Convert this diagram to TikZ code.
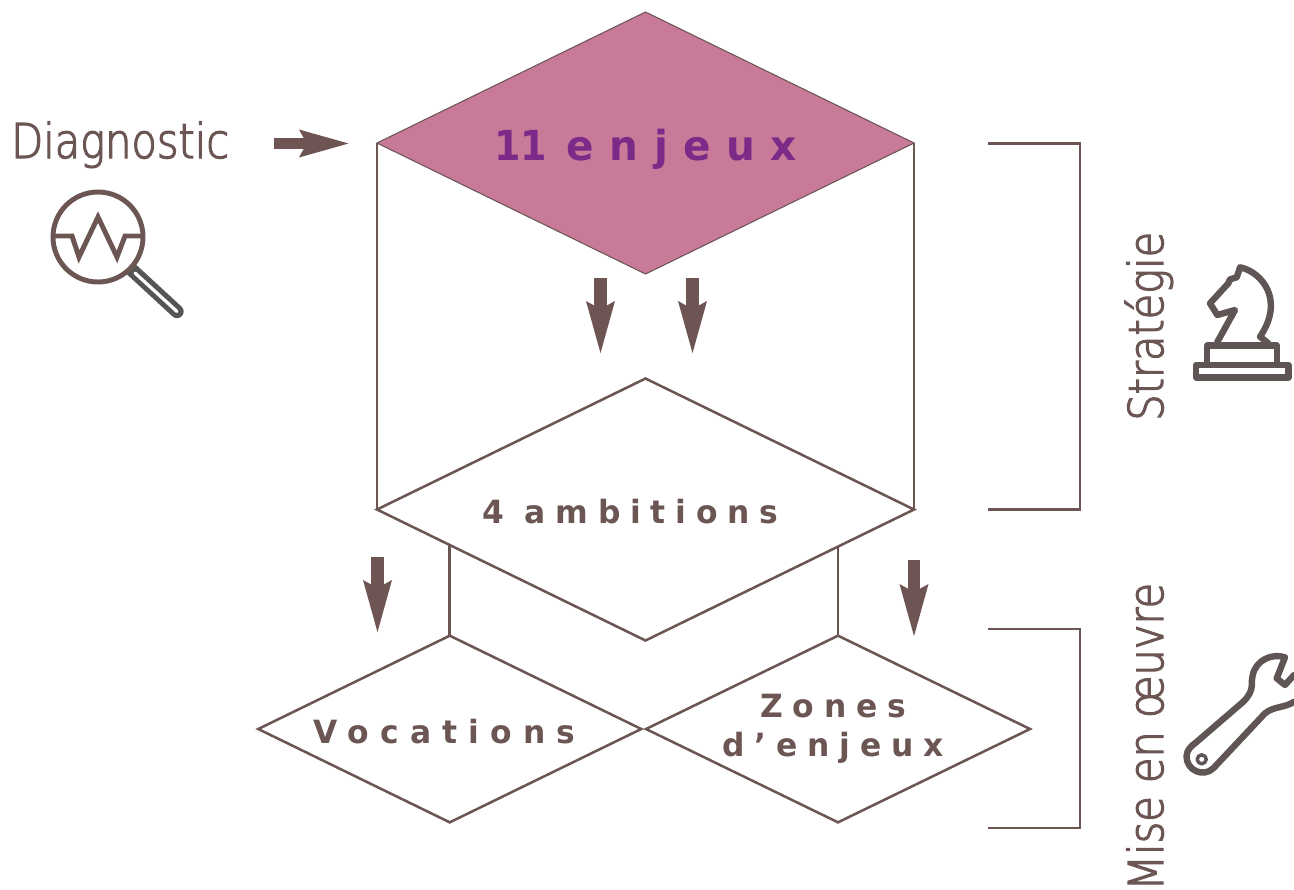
\documentclass[tikz,border=0pt]{standalone}
\usepackage{fontspec}
\usetikzlibrary{shapes.geometric,arrows.meta}
\setmainfont{DejaVu Sans}
\newfontfamily\lightf[FakeStretch=0.865,FakeBold=2.5]{DejaVu Sans ExtraLight}
\newfontfamily\spaced[LetterSpace=35,FakeStretch=0.98]{DejaVu Sans}
\newfontfamily\spacedb[LetterSpace=30.5,FakeStretch=0.98]{DejaVu Sans}
\newfontfamily\spacedt[LetterSpace=37.5,FakeStretch=0.98]{DejaVu Sans}
\newfontfamily\tightb[FakeStretch=0.92]{DejaVu Sans}
\definecolor{brownline}{HTML}{6B5654}
\definecolor{brownarrow}{HTML}{6E5452}
\definecolor{rosefill}{HTML}{C97A99}
\definecolor{purpletext}{HTML}{7B2A88}
\definecolor{iconbrown}{HTML}{5F5555}
\definecolor{icondark}{HTML}{555556}
\newcommand{\dtext}[3]{\makebox[0pt]{\hspace*{#1}\raisebox{#2}[0pt][0pt]{#3}}}
\newcommand{\boldlbl}{\spaced\bfseries\fontsize{24}{24}\selectfont\color{brownline}}
\newcommand{\boldlblb}{\spacedb\bfseries\fontsize{24}{24}\selectfont\color{brownline}}
\tikzset{
  x=0.75pt,y=-0.75pt,
  dia/.style={diamond,aspect=2,draw=brownline,line width=1.9pt,fill=white,inner sep=0pt,outer sep=0pt,line join=miter},
  wire/.style={draw=brownline,line width=1.9pt},
  blockarrow/.style={draw=brownarrow,line width=9.5pt,-{Stealth[length=39pt,width=19pt,inset=4pt]}},
  iconline/.style={draw=iconbrown,line width=4.8pt,line join=round,line cap=round},
  lensline/.style={draw=brownline,line width=3.7pt,line join=miter},
  sidetext/.style={font=\lightf\fontsize{36}{36}\selectfont,text=brownline,inner sep=0pt},
}
\begin{document}
\begin{tikzpicture}
\useasboundingbox (0,0) rectangle (1294,889);
\node[dia,minimum width=402.75pt,minimum height=196.5pt,fill=rosefill,line width=0.8pt] (top) at (645.5,143) {\dtext{0pt}{-12.75pt}{\color{purpletext}\bfseries\fontsize{31}{31}\selectfont{\tightb 11}\hspace{.48em}{\spacedt enjeux}}};
\node[dia,minimum width=402.75pt,minimum height=196.5pt] (mid) at (645.5,509.5) {\dtext{-22.8pt}{-10.75pt}{\boldlblb 4 ambitions}};
\node[dia,minimum width=287.25pt,minimum height=140pt] (voc) at (449.75,729) {\dtext{-7.5pt}{-11pt}{\boldlbl Vocations}};
\node[dia,minimum width=288pt,minimum height=140pt] (zon) at (838,729) {\dtext{-7.5pt}{-2.25pt}{\begin{tabular}{@{}c@{}}\boldlblb Zones\\[7.5pt]\boldlblb d’enjeux\end{tabular}}};
\draw[wire] (top.west) -- (mid.west);
\draw[wire] (top.east) -- (mid.east);
\draw[wire] (voc.north |- mid.190.2) -- (voc.north);
\draw[wire] (zon.north |- mid.-11) -- (zon.north);
% brackets
\coordinate (b1a) at (988,143.5); \coordinate (b1b) at (988,509.5); \coordinate (b1x) at (1080,0);
\coordinate (b2a) at (988,629); \coordinate (b2b) at (988,828);
\draw[wire,line join=miter] (b1a) -- (b1a -| b1x) -- (b1b -| b1x) -- (b1b);
\draw[wire,line join=miter] (b2a) -- (b2a -| b1x) -- (b2b -| b1x) -- (b2b);
% side labels
\node[sidetext,anchor=base west] (diag) at (11,158) {Diagnostic};
\node[sidetext,anchor=base west,rotate=90] (strat) at (1163,421) {Stratégie};
\node[sidetext,anchor=base west,rotate=90] (mise) at (1163,891) {Mise en œuvre};
% block arrows
\coordinate (a1s) at (274,143.5); \coordinate (a1e) at (351,143.5);
\coordinate (a2s) at (600.5,278); \coordinate (a2e) at (600.5,356);
\coordinate (a3s) at (692.5,278); \coordinate (a3e) at (692.5,356);
\coordinate (a4s) at (377.5,557); \coordinate (a4e) at (377.5,635);
\coordinate (a5s) at (914,560); \coordinate (a5e) at (914,639);
\draw[blockarrow,line width=8.5pt,-{Stealth[length=37pt,width=18.5pt,inset=4pt]}] (a1s) -- (a1e);
\draw[blockarrow] (a2s) -- (a2e);
\draw[blockarrow] (a3s) -- (a3e);
\draw[blockarrow] (a4s) -- (a4e);
\draw[blockarrow] (a5s) -- (a5e);
% magnifier icon
\draw[draw=icondark,line width=10pt,line cap=round] (132,270) -- (177,311.5);
\draw[draw=white,line width=2.4pt,line cap=round] (135,273) -- (177,311.5);
\draw[lensline,fill=white] (98,237) circle[radius=45];
\draw[lensline] (55,236) -- (72,236) -- (79,257) -- (98,217) -- (117,257) -- (125,236) -- (143,236);
% knight icon
\draw[iconline] (1196,365) rectangle (1288.5,377.5);
\draw[iconline] (1207,362) -- (1207,345.5) -- (1277,345.5) -- (1277,362);
\draw[iconline] (1217.3,342) -- (1235,310) -- (1217.3,315) -- (1210,303.3) -- (1228.3,283.3) -- (1230,279.3) -- (1236.7,277.3) -- (1240,267.3) .. controls (1262,272) and (1285,300) .. (1260,336.7) -- (1268,343);
% wrench icon
\draw[iconline] (1294,701.7) .. controls (1285,708) and (1274,706) .. (1265,713.3) -- (1213.3,768.3) .. controls (1203,778) and (1186,770) .. (1186.5,756) .. controls (1187,750) and (1191,746) .. (1195,743.3) -- (1243.3,701.7) .. controls (1256,689) and (1250,682) .. (1252.7,675) .. controls (1256,660) and (1272,653) .. (1285,657.3) -- (1276.7,678.3) -- (1285,685) -- (1294,675);
\draw[iconline,line width=2.6pt] (1201.7,759.3) circle[radius=4.5];
\end{tikzpicture}
\end{document}
